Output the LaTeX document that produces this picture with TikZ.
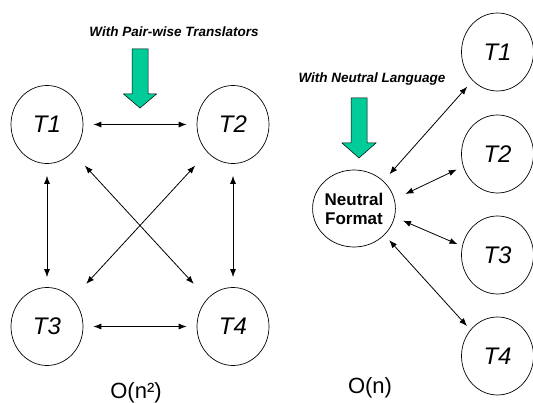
\documentclass[tikz,border=0pt]{standalone}
\usepackage{fontspec}
\setsansfont{Liberation Sans}
\usepackage{xcolor}
\usepackage{tikz}
\usetikzlibrary{arrows.meta,positioning,shapes.geometric}
\definecolor{arrowgreen}{RGB}{0,204,153}

\begin{document}
\begin{tikzpicture}[
    x=1pt, y=1pt,
    node distance=186pt,
    >={Latex[length=8pt,width=6pt]},
    font=\sffamily,
    tool/.style={
		ellipse,
		draw=black,
		line width=0.7pt,
		minimum width=72pt,
		minimum height=78pt,
		inner sep=0pt,
		font=\sffamily\itshape\fontsize{24}{24}\selectfont
	},
	hub/.style={
		ellipse,
		draw=black,
		line width=0.7pt,
		minimum width=82pt,
		minimum height=77pt,
		inner sep=0pt,
		align=center,
		font=\sffamily\bfseries\fontsize{17}{19}\selectfont
	},
	caption/.style={
		font=\sffamily\bfseries\itshape\fontsize{13.5}{14}\selectfont
	},
	cost/.style={
		anchor=base,
		font=\sffamily\fontsize{22}{22}\selectfont
	},
	link/.style={
		<->,
		line width=0.8pt,
		shorten <=10pt,
		shorten >=10pt
	},
	bigarrow/.style={
		fill=arrowgreen,
		draw=black,
		line width=0.5pt
	}
  ]
  \useasboundingbox (0,0) rectangle (533,-403);

  % left: every tool talks to every other one
  \node [tool] (t1) at (47,-124.5) {T1};
  \node [tool, right of=t1] (t2) {T2};
  \node [tool, below of=t1, node distance=202pt] (t3) {T3};
  \node [tool, right of=t3] (t4) {T4};

  \node [caption] (pairtitle) at (174,-32) {With Pair-wise Translators};
  \coordinate (pairtip) at (140,-108);
  \draw [bigarrow] (pairtip) -- ++(16.5,14) -- ++(-8.5,0) -- ++(0,45)
    -- ++(-16,0) -- ++(0,-45) -- ++(-8.5,0) -- cycle;

  \draw [link] (t1) -- (t2);
  \draw [link] (t3) -- (t4);
  \draw [link, shorten <=12pt] (t1) -- (t3);
  \draw [link, shorten <=12pt] (t2) -- (t4);
  \draw [link, shorten <=18pt, shorten >=20pt] (t1) -- (t4);
  \draw [link, shorten <=18pt, shorten >=20pt] (t2) -- (t3);

  \node [cost] (pairs) at (136,-398.5) {O(n²)};

  % right: every tool goes through the neutral format
  \node [tool] (n1) at (497.5,-52) {T1};
  \node [tool, below of=n1, node distance=102pt] (n2) {T2};
  \node [tool, below of=n2, node distance=101pt] (n3) {T3};
  \node [tool, below of=n3, node distance=101pt] (n4) {T4};
  \node [hub] (neutral) at (354,-208.5) {Neutral\\Format};

  \node [caption] (neutraltitle) at (372,-79) {With Neutral Language};
  \coordinate (neutraltip) at (359,-158);
  \draw [bigarrow] (neutraltip) -- ++(17,15) -- ++(-9,0) -- ++(0,45)
    -- ++(-16,0) -- ++(0,-45) -- ++(-9,0) -- cycle;

  \draw [link, shorten <=9pt, shorten >=8pt] (neutral.43) -- (n1.229);
  \draw [link, shorten <=12pt, shorten >=7pt] (neutral.13) -- (n2.200);
  \draw [link, shorten <=9pt, shorten >=5pt] (neutral.-12) -- (n3.166);
  \draw [link, shorten <=7pt, shorten >=5pt] (neutral.-41) -- (n4.136);

  \node [cost] (single) at (370,-393) {O(n)};

\end{tikzpicture}
\end{document}
